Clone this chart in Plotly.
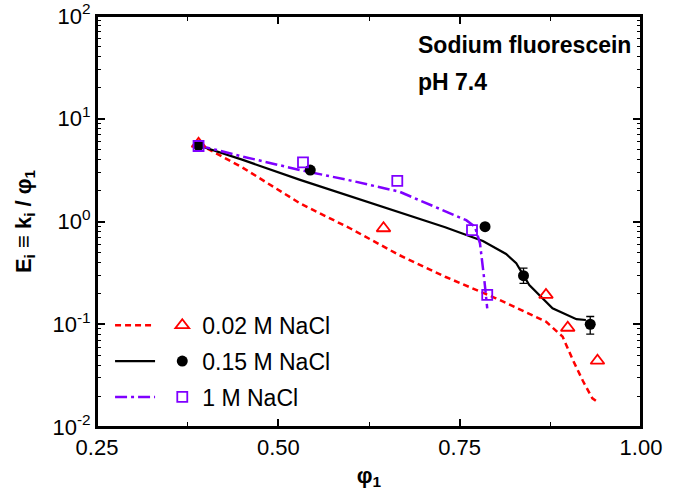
import plotly.graph_objects as go

# ---- data ----
phi_002 = [0.39, 0.645, 0.869, 0.899, 0.940]
E_002 = [5.7, 0.86, 0.193, 0.0925, 0.0442]

phi_015 = [0.39, 0.544, 0.785, 0.838, 0.930]
E_015 = [5.5, 3.17, 0.89, 0.297, 0.100]
err_015_plus = [0, 0, 0, 0.054, 0.019]
err_015_minus = [0, 0, 0, 0.047, 0.020]

phi_1 = [0.39, 0.534, 0.664, 0.767, 0.788]
E_1 = [5.43, 3.77, 2.48, 0.826, 0.193]

fit_phi_002 = [0.39, 0.45, 0.53, 0.60, 0.667, 0.73, 0.80, 0.869, 0.892, 0.906, 0.920, 0.933, 0.94]
fit_E_002 = [5.7, 3.37, 1.5, 0.85, 0.47, 0.29, 0.179, 0.106, 0.0757, 0.045, 0.028, 0.019, 0.0175]

fit_phi_015 = [0.39, 0.45, 0.53, 0.60, 0.667, 0.73, 0.782, 0.814, 0.828, 0.846, 0.878, 0.911, 0.924]
fit_E_015 = [5.5, 4.0, 2.54, 1.75, 1.24, 0.88, 0.645, 0.483, 0.392, 0.241, 0.143, 0.112, 0.110]

fit_phi_1 = [0.39, 0.45, 0.53, 0.60, 0.667, 0.727, 0.759, 0.771, 0.778, 0.784, 0.788]
fit_E_1 = [5.5, 4.3, 3.17, 2.5, 1.95, 1.29, 1.03, 0.89, 0.614, 0.27, 0.143]

labels = ["0.02 M NaCl", "0.15 M NaCl", "1 M NaCl"]
x_ticks = [0.25, 0.50, 0.75, 1.00]
x_ticktext = ["0.25", "0.50", "0.75", "1.00"]
y_ticks = [0.01, 0.1, 1, 10, 100]
y_ticktext = ["10<sup>-2</sup>", "10<sup>-1</sup>", "10<sup>0</sup>", "10<sup>1</sup>", "10<sup>2</sup>"]

RED = "#FF0000"
BLACK = "#000000"
PURPLE = "#7F00FF"
FONT = "Liberation Sans, Arial, sans-serif"
FS = 23
AFS = 22

fig = go.Figure()

# fitted curves (legend 1: line samples)
fig.add_trace(go.Scatter(x=fit_phi_002, y=fit_E_002, mode="lines", name=" ",
                         line=dict(color=RED, width=2.5, dash="6px,4px"),
                         legend="legend", legendgroup="a"))
fig.add_trace(go.Scatter(x=fit_phi_015, y=fit_E_015, mode="lines", name=" ",
                         line=dict(color=BLACK, width=2.2),
                         legend="legend", legendgroup="b"))
fig.add_trace(go.Scatter(x=fit_phi_1, y=fit_E_1, mode="lines", name=" ",
                         line=dict(color=PURPLE, width=2.5, dash="12px,4px,3px,4px"),
                         legend="legend", legendgroup="c"))

# data points (legend 2: marker samples + text)
fig.add_trace(go.Scatter(x=phi_002, y=E_002, mode="markers", name=labels[0],
                         marker=dict(symbol="triangle-up-open", size=12, color=RED,
                                     line=dict(width=1.8, color=RED)),
                         legend="legend2", legendgroup="d"))
fig.add_trace(go.Scatter(x=phi_015, y=E_015, mode="markers", name=labels[1],
                         marker=dict(symbol="circle", size=11, color=BLACK),
                         error_y=dict(type="data", array=err_015_plus, arrayminus=err_015_minus,
                                      color=BLACK, thickness=1.3, width=4),
                         legend="legend2", legendgroup="e"))
fig.add_trace(go.Scatter(x=phi_1, y=E_1, mode="markers", name=labels[2],
                         marker=dict(symbol="square-open", size=10, color=PURPLE,
                                     line=dict(width=1.8, color=PURPLE)),
                         legend="legend2", legendgroup="f"))

minor_y = [m * 10 ** e for e in range(-2, 2) for m in range(2, 10)]

fig.update_layout(
    width=683, height=492,
    margin=dict(l=97, r=42, t=16, b=65, autoexpand=False),
    paper_bgcolor="white", plot_bgcolor="white",
    font=dict(family=FONT, size=AFS, color="black"),
    xaxis=dict(range=[0.25, 1.0], tickmode="array", tickvals=x_ticks, ticktext=x_ticktext,
               ticks="inside", ticklen=8, tickwidth=1.5, tickcolor="black",
               showline=True, linewidth=2, linecolor="black", mirror="ticks",
               showgrid=False, zeroline=False, automargin=False,
               tickfont=dict(size=AFS, family=FONT),
               minor=dict(tickvals=[0.375, 0.625, 0.875], ticks="inside", ticklen=5,
                          tickwidth=1.2, tickcolor="black", showgrid=False),
               title=dict(text="<b>φ<sub>1</sub></b>", standoff=8,
                          font=dict(size=AFS, family=FONT))),
    yaxis=dict(type="log", range=[-2, 2], tickmode="array", tickvals=y_ticks, ticktext=y_ticktext,
               ticks="inside", ticklen=8, tickwidth=1.5, tickcolor="black",
               showline=True, linewidth=2, linecolor="black", mirror="ticks",
               showgrid=False, zeroline=False, automargin=False,
               tickfont=dict(size=AFS, family=FONT),
               minor=dict(tickvals=minor_y, ticks="inside", ticklen=4,
                          tickwidth=1.2, tickcolor="black", showgrid=False),
               title=dict(text="<b>E<sub>i</sub> ≡ k<sub>i</sub> / φ<sub>1</sub></b>", standoff=15,
                          font=dict(size=AFS, family=FONT))),
    legend=dict(x=0.024, y=0.30, xanchor="left", yanchor="top",
                bgcolor="rgba(0,0,0,0)", itemwidth=40, traceorder="grouped",
                tracegroupgap=3, font=dict(size=FS, family=FONT)),
    legend2=dict(x=0.120, y=0.30, xanchor="left", yanchor="top",
                 bgcolor="rgba(0,0,0,0)", itemwidth=30, traceorder="grouped",
                 tracegroupgap=3, font=dict(size=FS, family=FONT)),
    shapes=[dict(type="rect", xref="paper", yref="paper", x0=0, y0=0, x1=1, y1=1,
                 line=dict(color="black", width=2), layer="above")],
    annotations=[
        dict(text="<b>Sodium fluorescein</b>", xref="paper", yref="paper", x=0.586, y=0.929,
             xanchor="left", yanchor="middle", showarrow=False, font=dict(size=FS, family=FONT)),
        dict(text="<b>pH 7.4</b>", xref="paper", yref="paper", x=0.586, y=0.839,
             xanchor="left", yanchor="middle", showarrow=False, font=dict(size=FS, family=FONT)),
    ],
)

fig.write_html("out.html", config={"displayModeBar": False},
               post_script="document.body.style.margin='0px';")
